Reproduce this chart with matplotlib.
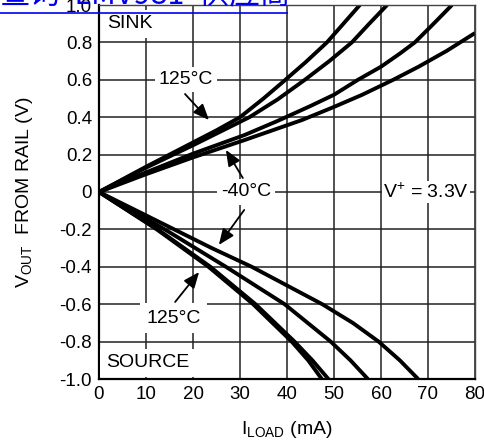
import matplotlib
matplotlib.use("Agg")
import matplotlib.pyplot as plt
from matplotlib.lines import Line2D

plt.rcParams['font.family'] = ['Liberation Sans', 'DejaVu Sans']
plt.rcParams['mathtext.default'] = 'regular'

# sink curves (V above rail), I in mA
sink_125_i = [0, 10, 20, 25, 30, 35, 39.2, 44, 48.5, 52, 55.5]
sink_125_v = [0, 0.135, 0.265, 0.33, 0.4, 0.5, 0.59, 0.695, 0.8, 0.9, 1.0]
sink_85_i = [0, 10, 20, 26, 32, 38, 43.8, 49, 53.8, 57.5, 61.3]
sink_85_v = [0, 0.13, 0.25, 0.325, 0.4, 0.495, 0.6, 0.7, 0.8, 0.9, 1.0]
sink_25_i = [0, 10, 20, 31, 38, 45, 50, 55.1, 60, 64, 67.2, 71, 75.1]
sink_25_v = [0, 0.105, 0.205, 0.305, 0.38, 0.46, 0.52, 0.6, 0.67, 0.74, 0.8, 0.895, 1.0]
sink_m40_i = [0, 10, 20, 31, 43.2, 50, 56, 62.6, 68, 74, 80]
sink_m40_v = [0, 0.095, 0.185, 0.278, 0.385, 0.455, 0.52, 0.6, 0.67, 0.755, 0.85]

# source curves
src_125_i = [0, 12.3, 23.3, 32.8, 41, 44.5, 47.4]
src_125_v = [0, -0.2, -0.4, -0.6, -0.8, -0.9, -1.0]
src_85_i = [0, 12.5, 23.7, 33.3, 41.6, 45.4, 48.8]
src_85_v = [0, -0.2, -0.4, -0.6, -0.8, -0.9, -1.0]
src_25_i = [0, 14, 27, 39.5, 49.3, 53.5, 57.2]
src_25_v = [0, -0.2, -0.4, -0.6, -0.8, -0.9, -1.0]
src_m40_i = [0, 8, 16, 24, 32.5, 40, 47.5, 54, 59.5, 64, 67.9]
src_m40_v = [0, -0.1, -0.2, -0.3, -0.4, -0.5, -0.6, -0.7, -0.8, -0.9, -1.0]

x_ticks = [0, 10, 20, 30, 40, 50, 60, 70, 80]
y_ticks = [1.0, 0.8, 0.6, 0.4, 0.2, 0, -0.2, -0.4, -0.6, -0.8, -1.0]
y_labels = ['1.0', '0.8', '0.6', '0.4', '0.2', '0', '-0.2', '-0.4', '-0.6', '-0.8', '-1.0']

fig = plt.figure(figsize=(4.85, 4.46), dpi=100)
ax = fig.add_axes([99 / 485, 1 - 379 / 446, 376 / 485, 374 / 446])

curves = [(sink_125_i, sink_125_v), (sink_85_i, sink_85_v),
          (sink_25_i, sink_25_v), (sink_m40_i, sink_m40_v),
          (src_125_i, src_125_v), (src_85_i, src_85_v),
          (src_25_i, src_25_v), (src_m40_i, src_m40_v)]
for xs, ys in curves:
    ax.plot(xs, ys, color='black', lw=2.8, solid_joinstyle='round',
            solid_capstyle='butt')

ax.set_xlim(0, 80)
ax.set_ylim(-1.0, 1.0)
ax.set_xticks(x_ticks)
ax.set_yticks(y_ticks)
ax.set_yticklabels(y_labels)
ax.tick_params(length=0, labelsize=13.5, pad=5)
ax.set_axisbelow(True)
ax.grid(True, color='#222222', lw=1.1)
for s in ['left', 'bottom']:
    ax.spines[s].set_linewidth(1.6)
for s in ['top', 'right']:
    ax.spines[s].set_linewidth(1.0)
    ax.spines[s].set_color('#444444')

fs = 14
box = dict(fc='white', ec='none', pad=3)
ax.text(1.7, 0.9, 'SINK', fontsize=fs, ha='left', va='center',
        bbox=dict(fc='white', ec='none', pad=4))
ax.text(18.5, 0.6, '125°C', fontsize=fs, ha='center', va='center', bbox=box)
ax.text(31.3, 0.0, '-40°C', fontsize=fs, ha='center', va='center', bbox=box)
ax.text(69.6, 0.0, 'V$^{+}$ = 3.3V', fontsize=fs, ha='center', va='center',
        bbox=dict(fc='white', ec='none', pad=1.0))
ax.text(15.8, -0.674, '125°C', fontsize=fs, ha='center', va='center',
        bbox=dict(fc='white', ec='none', pad=4.5))
ax.text(10.3, -0.914, 'SOURCE', fontsize=fs, ha='center', va='center',
        bbox=dict(fc='white', ec='none', pad=4))

arrow = dict(arrowstyle='-|>,head_length=0.6,head_width=0.25', color='black',
             lw=1.3, mutation_scale=16, shrinkA=0, shrinkB=0)
ax.annotate('', xy=(23.4, 0.385), xytext=(18.3, 0.524), arrowprops=arrow)
ax.annotate('', xy=(27.0, 0.225), xytext=(30.6, 0.075), arrowprops=arrow)
ax.annotate('', xy=(25.5, -0.283), xytext=(30.9, -0.096), arrowprops=arrow)
ax.annotate('', xy=(21.3, -0.428), xytext=(16.2, -0.588), arrowprops=arrow)

fig.text(25 / 485, 1 - 192 / 446, 'V$_{OUT}$  FROM RAIL (V)', rotation=90,
         fontsize=fs, ha='center', va='center')
fig.text(287 / 485, 1 - 430 / 446, 'I$_{LOAD}$ (mA)', fontsize=fs,
         ha='center', va='center')

# clipped watermark link at the top
fig.text(0.0, 1 - 3 / 446, '查询"LMV981"供应商', color='#0000ee', fontsize=22,
         family=['Noto Sans CJK SC', 'DejaVu Sans'], ha='left', va='baseline')
fig.add_artist(Line2D([0, 287 / 485], [1 - 13 / 446, 1 - 13 / 446],
                      color='#0000ee', lw=1.2, transform=fig.transFigure))

fig.savefig('out.png', dpi=100)
